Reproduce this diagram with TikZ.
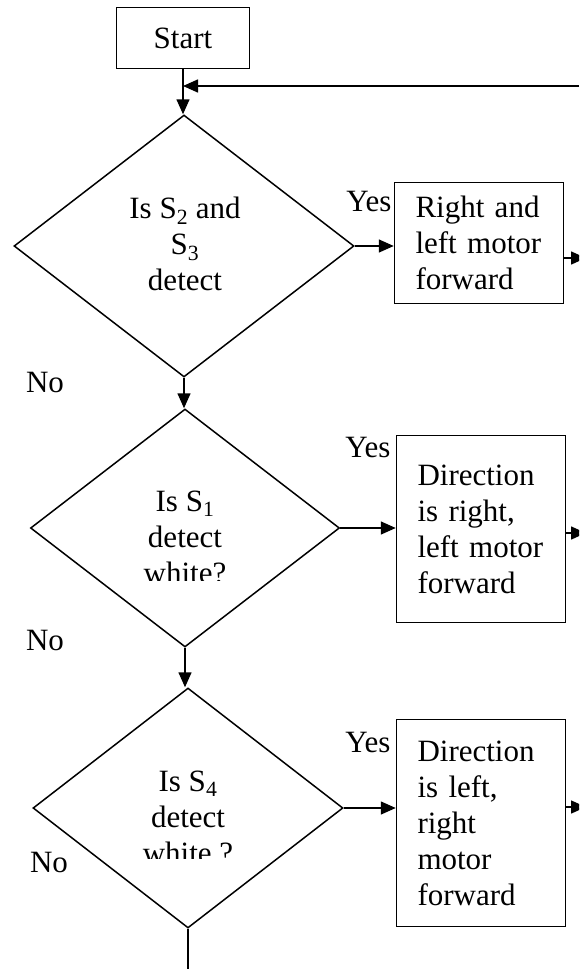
\documentclass[tikz,border=0pt]{standalone}
\usepackage{fontspec}
\setmainfont{Liberation Serif}
\usetikzlibrary{shapes.geometric,arrows.meta}

\tikzset{
  txt/.style={font=\fontsize{31}{36}\selectfont},
  box/.style={txt, draw, line width=1.5pt, inner xsep=21pt, inner ysep=0pt,
    text width=127pt, align=left, minimum width=168pt},
  decision/.style={diamond, draw, line width=1.5pt, inner sep=0pt},
  question/.style={txt, align=center},
  flow/.style={line width=1.5pt},
}

\begin{document}
\begin{tikzpicture}[x=1pt, y=-1pt, >={Triangle[length=15pt,width=13pt]}]
    \clip (0,0) rectangle (579,969);

    % Start
    \node[txt, draw, line width=1.5pt, minimum width=133pt, minimum height=61pt] (start) at (183,38) {Start};

    % Decisions
    \node[decision, minimum width=340pt, minimum height=262pt] (d1) at (184,246) {};
    \node[decision, minimum width=309pt, minimum height=238pt] (d2) at (185,528) {};
    \node[decision, minimum width=310pt, minimum height=240pt] (d3) at (188,808) {};

    % Questions (text box is cut at the bottom)
    \node[question] (q1) at (185,244) {Is S\textsubscript{2} and\\S\textsubscript{3}\\detect};
    \begin{scope}
        \clip (60,450) rectangle (310,580);
        \node[question] (q2) at (185,537) {Is S\textsubscript{1}\\detect\\white?};
    \end{scope}
    \begin{scope}
        \clip (60,730) rectangle (310,858);
        \node[question] (q3) at (188,817) {Is S\textsubscript{4}\\detect\\white ?};
    \end{scope}

    % Actions
    \node[box, minimum height=121pt] (b1) at (479,243) {Right and\\left motor\\forward};
    \node[box, minimum height=187pt] (b2) at (481,529) {Direction\\is right,\\left motor\\forward\\[14pt]};
    \node[box, minimum height=207pt] (b3) at (481,823) {Direction\\is left,\\right\\motor\\forward};

    % Labels
    \node[txt] (y1) at (369,201) {Yes};
    \node[txt] (y2) at (368,447) {Yes};
    \node[txt] (y3) at (368,742) {Yes};
    \node[txt] (n1) at (45,382) {No};
    \node[txt] (n2) at (45,640) {No};
    \node[txt] (n3) at (49,862) {No};

    % Free ends
    \coordinate (ret) at (579,86);
    \coordinate (o1) at (586,258);
    \coordinate (o2) at (586,533);
    \coordinate (o3) at (586,807);
    \coordinate (bot) at (188,975);

    % Connectors
    \draw[flow, ->] (start.south) -- (start.south |- d1.north);
    \draw[flow, ->] (ret) -- (ret -| start.south);
    \draw[flow, ->] (d1.south) -- (d1.south |- d2.north);
    \draw[flow, ->] (d2.south) -- (d2.south |- d3.north);
    \draw[flow] (d3.south) -- (bot);
    \draw[flow, ->] (d1.east) -- (d1.east -| b1.west);
    \draw[flow, ->] (d2.east) -- (d2.east -| b2.west);
    \draw[flow, ->] (d3.east) -- (d3.east -| b3.west);
    \draw[flow, ->] (b1.east |- o1) -- (o1);
    \draw[flow, ->] (b2.east |- o2) -- (o2);
    \draw[flow, ->] (b3.east |- o3) -- (o3);
\end{tikzpicture}
\end{document}
